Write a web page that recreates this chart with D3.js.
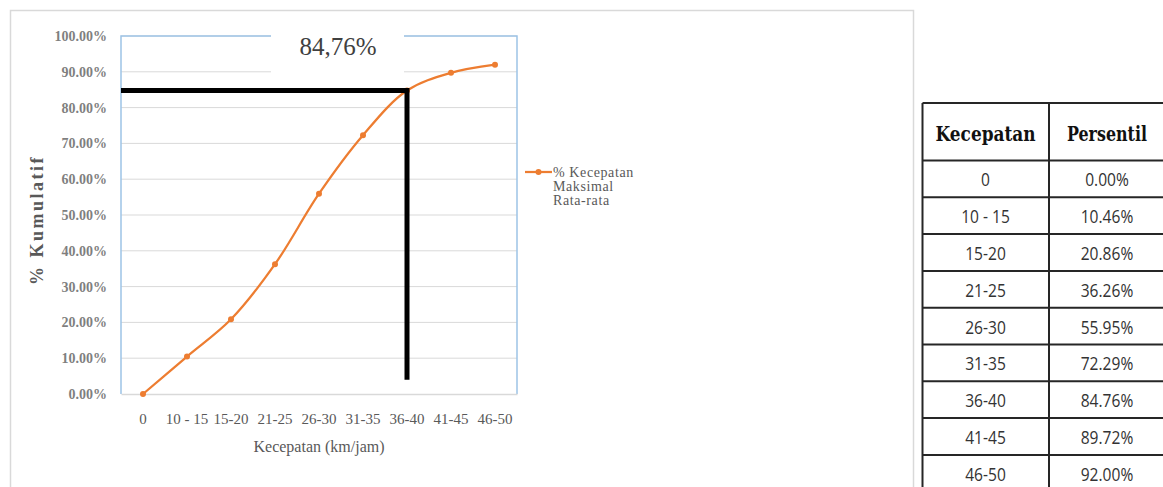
<!DOCTYPE html>
<html>
<head>
<meta charset="utf-8">
<script src="https://cdn.jsdelivr.net/npm/d3@7"></script>
<style>
  html, body { margin: 0; padding: 0; background: #fff; }
  svg { display: block; }
</style>
</head>
<body>
<svg id="chart" width="1163" height="487"></svg>
<script>
// Speed classes (km/jam) and the cumulative share of vehicles at or below each class
const categories = ["0", "10 - 15", "15-20", "21-25", "26-30", "31-35", "36-40", "41-45", "46-50"];
const tableCategories = ["0", "10 - 15", "15-20", "21-25", "26-30", "31-35", "36-40", "41-45", "46-50"];
const cumulative = [0.0, 0.1046, 0.2086, 0.3626, 0.5595, 0.7229, 0.8476, 0.8972, 0.92];
const yTicks = [0, 0.1, 0.2, 0.3, 0.4, 0.5, 0.6, 0.7, 0.8, 0.9, 1.0];

// 85th-percentile marker
const refCategory = "36-40";
const refValue = 0.8476;
const refLabel = "84,76%";
const refLineBottom = 0.04;

const seriesName = ["% Kecepatan", "Maksimal", "Rata-rata"];
const xTitle = "Kecepatan (km/jam)";
const yTitle = "% Kumulatif";
const tableHeader = ["Kecepatan", "Persentil"];
const tableValues = ["0.00%", "10.46%", "20.86%", "36.26%", "55.95%", "72.29%", "84.76%", "89.72%", "92.00%"];

const svg = d3.select("#chart");
const orange = "#ed7d31";
const gridGray = "#d9d9d9";
const textGray = "#595959";
const serif = "'Liberation Serif', 'Times New Roman', serif";

// chart frame
svg.append("rect")
  .attr("x", 10.5).attr("y", 10.5)
  .attr("width", 903).attr("height", 500)
  .attr("fill", "#fff").attr("stroke", gridGray).attr("stroke-width", 1.5);

const plot = { left: 121, right: 517, top: 36, bottom: 394 };

const x = d3.scaleBand().domain(categories).range([plot.left, plot.right]).padding(0);
const y = d3.scaleLinear().domain([0, 1]).range([plot.bottom, plot.top]);
const cx = c => x(c) + x.bandwidth() / 2;

// horizontal gridlines
svg.append("g")
  .selectAll("line")
  .data(yTicks.filter(t => t > 0))
  .join("line")
  .attr("x1", plot.left).attr("x2", plot.right)
  .attr("y1", d => y(d)).attr("y2", d => y(d))
  .attr("stroke", gridGray).attr("stroke-width", 1);

// plot-area outline (left, top, right)
svg.append("path")
  .attr("d", `M${plot.left},${plot.bottom} V${plot.top} H${plot.right} V${plot.bottom}`)
  .attr("fill", "none").attr("stroke", "#9dc3e6").attr("stroke-width", 1.5);

// category axis
const xAxis = svg.append("g")
  .attr("transform", `translate(0,${plot.bottom})`)
  .call(d3.axisBottom(x).tickSize(0).tickPadding(19));
xAxis.select(".domain").attr("stroke", gridGray).attr("stroke-width", 1.5);
xAxis.selectAll("text")
  .attr("font-family", serif).attr("font-size", 15).attr("fill", textGray);

// value axis labels
const yAxis = svg.append("g")
  .attr("transform", `translate(${plot.left},0)`)
  .call(d3.axisLeft(y).tickValues(yTicks).tickFormat(d3.format(".2%")).tickSize(0).tickPadding(14));
yAxis.select(".domain").remove();
yAxis.selectAll("text")
  .attr("font-family", serif).attr("font-size", 14).attr("font-weight", "bold")
  .attr("fill", "#7f7f7f");

// axis titles
svg.append("text")
  .attr("x", (plot.left + plot.right) / 2).attr("y", 452)
  .attr("text-anchor", "middle")
  .attr("font-family", serif).attr("font-size", 16).attr("fill", textGray)
  .text(xTitle);

svg.append("text")
  .attr("transform", "translate(43,220) rotate(-90)")
  .attr("text-anchor", "middle")
  .attr("font-family", serif).attr("font-size", 18).attr("font-weight", "bold")
  .attr("letter-spacing", 2.5)
  .attr("fill", textGray)
  .text(yTitle);

// cumulative curve
const line = d3.line()
  .x((d, i) => cx(categories[i]))
  .y(d => y(d))
  .curve(d3.curveCatmullRom.alpha(0.5));

svg.append("path")
  .datum(cumulative)
  .attr("d", line)
  .attr("fill", "none").attr("stroke", orange).attr("stroke-width", 2.25);

svg.append("g")
  .selectAll("circle")
  .data(cumulative)
  .join("circle")
  .attr("cx", (d, i) => cx(categories[i]))
  .attr("cy", d => y(d))
  .attr("r", 3)
  .attr("fill", orange);

// percentile marker lines
const rx = cx(refCategory);
svg.append("path")
  .attr("d", `M${plot.left},${y(refValue)} H${rx} V${y(refLineBottom)}`)
  .attr("fill", "none").attr("stroke", "#000").attr("stroke-width", 5)
  .attr("stroke-linejoin", "miter");

// label box and text
svg.append("rect")
  .attr("x", 271).attr("y", 28)
  .attr("width", rx - 271 - 3).attr("height", 50)
  .attr("fill", "#fff");
svg.append("text")
  .attr("x", 338).attr("y", 55)
  .attr("text-anchor", "middle")
  .attr("font-family", serif).attr("font-size", 25).attr("fill", "#404040")
  .text(refLabel);

// legend
const lg = svg.append("g").attr("transform", "translate(525,172)");
lg.append("line").attr("x1", 0).attr("x2", 27).attr("y1", 0).attr("y2", 0)
  .attr("stroke", orange).attr("stroke-width", 2.25);
lg.append("circle").attr("cx", 13.5).attr("cy", 0).attr("r", 3).attr("fill", orange);
lg.selectAll("text.leg")
  .data(seriesName)
  .join("text")
  .attr("class", "leg")
  .attr("x", 28).attr("y", (d, i) => 5 + i * 14)
  .attr("font-family", serif).attr("font-size", 14).attr("letter-spacing", 0.6)
  .attr("fill", textGray)
  .text(d => d);

// percentile table
const tbl = { cols: [922.5, 1049, 1167], top: 103, headH: 57.5, rowH: 36.8 };
const tg = svg.append("g");
const rowTops = d3.range(tableCategories.length + 1).map(i => tbl.top + tbl.headH + i * tbl.rowH);

tg.append("rect")
  .attr("x", tbl.cols[0]).attr("y", tbl.top)
  .attr("width", tbl.cols[2] - tbl.cols[0]).attr("height", rowTops[rowTops.length - 1] - tbl.top)
  .attr("fill", "#fff");

tg.selectAll("line.h")
  .data([tbl.top].concat(rowTops))
  .join("line")
  .attr("class", "h")
  .attr("x1", tbl.cols[0]).attr("x2", tbl.cols[2])
  .attr("y1", d => d).attr("y2", d => d)
  .attr("stroke", "#262626").attr("stroke-width", 2);

tg.selectAll("line.v")
  .data(tbl.cols)
  .join("line")
  .attr("class", "v")
  .attr("x1", d => d).attr("x2", d => d)
  .attr("y1", tbl.top).attr("y2", rowTops[rowTops.length - 1])
  .attr("stroke", "#262626").attr("stroke-width", 2);

// column text centres (second column is partly beyond the right edge)
const colCenter = [985.5, 1107];
const headWidth = [100, 80];

tg.selectAll("text.head")
  .data(tableHeader)
  .join("text")
  .attr("class", "head")
  .attr("x", (d, i) => colCenter[i])
  .attr("y", tbl.top + 38)
  .attr("text-anchor", "middle")
  .attr("font-family", "'DejaVu Serif', serif").attr("font-weight", "bold")
  .attr("font-size", 20)
  .attr("fill", "#111")
  .text(d => d)
  .each(function(d, i) {
    // condense the header horizontally to the column's lettering width
    const k = headWidth[i] / this.getComputedTextLength();
    const c = colCenter[i];
    d3.select(this).attr("transform", `translate(${c},0) scale(${k},1) translate(${-c},0)`);
  });

const body = tableCategories.map((c, i) => [c, tableValues[i]]);
tg.selectAll("g.row")
  .data(body)
  .join("g")
  .attr("class", "row")
  .each(function(r, ri) {
    d3.select(this).selectAll("text")
      .data(r)
      .join("text")
      .attr("x", (d, i) => colCenter[i])
      .attr("y", rowTops[ri] + 26)
      .attr("text-anchor", "middle")
      .attr("font-family", "'Open Sans', sans-serif")
      .attr("font-size", 19)
      .attr("transform", (d, i) => `translate(${colCenter[i]},0) scale(0.82,1) translate(${-colCenter[i]},0)`)
      .attr("fill", "#333")
      .text(d => d);
  });
</script>
</body>
</html>
